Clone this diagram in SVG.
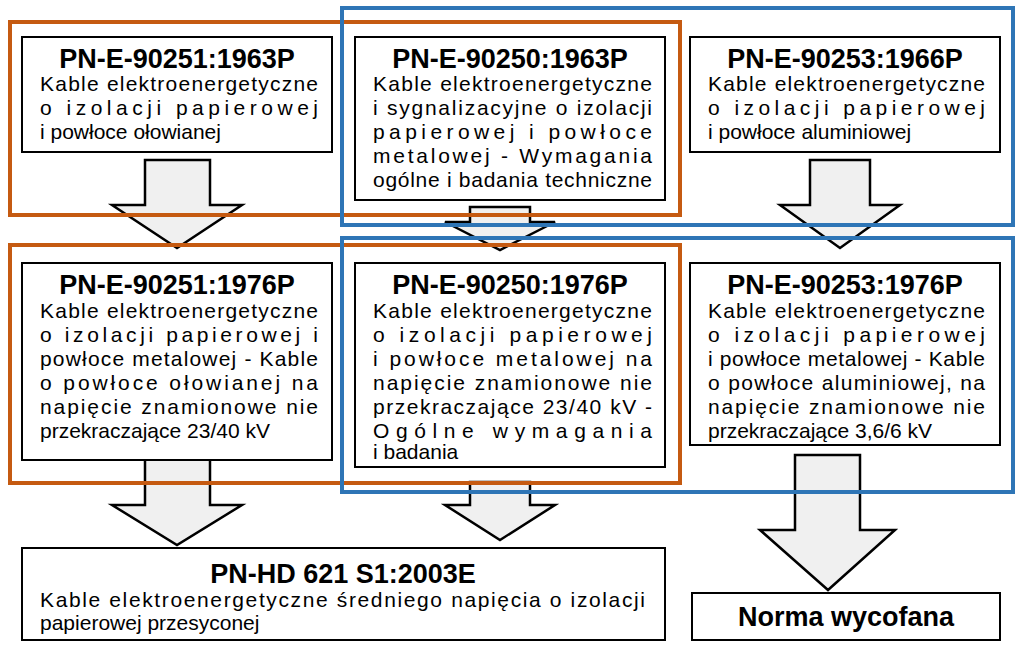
<svg xmlns="http://www.w3.org/2000/svg" width="1023" height="648" viewBox="0 0 1023 648">
<style>
.grp{fill:none;stroke-width:4}
.or{stroke:#c55a11}.bl{stroke:#2e75b6}
.box{fill:#fff;stroke:#000;stroke-width:2}
.arr{fill:#f0f0f0;stroke:#000;stroke-width:2.5;stroke-linejoin:miter}
.t{font-family:"Liberation Sans",Arial,sans-serif;font-weight:bold;font-size:27px;text-anchor:middle}
.b{font-family:"Liberation Sans",Arial,sans-serif;font-size:21px}
</style>
<rect width="1023" height="648" fill="#fff"/>
<g id="connectors">
<path class="arr" d="M145,160H210V205H242L177,248L112,205H145Z"/>
<path class="arr" d="M470,207H530V222H555L500,250L445,222H470Z"/>
<path class="arr" d="M810,160H870V205H900L840,248L780,205H810Z"/>
<path class="arr" d="M145,457H210V505H242L177,545L112,505H145Z"/>
<path class="arr" d="M470,482H530V505H555L500,540L445,505H470Z"/>
<path class="arr" d="M795,455H860V530H895L828,590L760,530H795Z"/>
</g>
<g id="groups">
<rect class="grp or" x="10" y="22" width="670" height="193"/>
<rect class="grp bl" x="342" y="8" width="671" height="217"/>
<rect class="grp or" x="10" y="245" width="670" height="238"/>
<rect class="grp bl" x="342" y="238" width="671" height="254"/>
</g>
<g id="nA"><rect class="box" x="22" y="37" width="310" height="115"/>
<text class="t" x="177" y="68">PN-E-90251:1963P</text>
<text class="b" x="40" y="91" textLength="278" lengthAdjust="spacing">Kable elektroenergetyczne</text>
<text class="b" x="40" y="115" textLength="278" lengthAdjust="spacing">o izolacji papierowej</text>
<text class="b" x="40" y="139">i  powłoce ołowianej</text></g>
<g id="nB"><rect class="box" x="355" y="37" width="310" height="163"/>
<text class="t" x="510" y="68">PN-E-90250:1963P</text>
<text class="b" x="373" y="91" textLength="279" lengthAdjust="spacing">Kable elektroenergetyczne</text>
<text class="b" x="373" y="115" textLength="279" lengthAdjust="spacing">i sygnalizacyjne o izolacji</text>
<text class="b" x="373" y="139" textLength="279" lengthAdjust="spacing">papierowej i powłoce</text>
<text class="b" x="373" y="163" textLength="279" lengthAdjust="spacing">metalowej - Wymagania</text>
<text class="b" x="373" y="187" textLength="279" lengthAdjust="spacing">ogólne i badania techniczne</text></g>
<g id="nC"><rect class="box" x="690" y="37" width="310" height="115"/>
<text class="t" x="845" y="68">PN-E-90253:1966P</text>
<text class="b" x="708" y="91" textLength="277" lengthAdjust="spacing">Kable elektroenergetyczne</text>
<text class="b" x="708" y="115" textLength="277" lengthAdjust="spacing">o izolacji papierowej</text>
<text class="b" x="708" y="139">i  powłoce aluminiowej</text></g>
<g id="nD"><rect class="box" x="22" y="263" width="310" height="197"/>
<text class="t" x="177" y="294">PN-E-90251:1976P</text>
<text class="b" x="40" y="318" textLength="278" lengthAdjust="spacing">Kable elektroenergetyczne</text>
<text class="b" x="40" y="342" textLength="278" lengthAdjust="spacing">o izolacji papierowej i</text>
<text class="b" x="40" y="366" textLength="278" lengthAdjust="spacing">powłoce metalowej - Kable</text>
<text class="b" x="40" y="390" textLength="278" lengthAdjust="spacing">o powłoce ołowianej na</text>
<text class="b" x="40" y="414" textLength="278" lengthAdjust="spacing">napięcie znamionowe nie</text>
<text class="b" x="40" y="438">przekraczające 23/40 kV</text></g>
<g id="nE"><rect class="box" x="355" y="263" width="310" height="204"/>
<text class="t" x="510" y="294">PN-E-90250:1976P</text>
<text class="b" x="373" y="318" textLength="279" lengthAdjust="spacing">Kable elektroenergetyczne</text>
<text class="b" x="373" y="342" textLength="279" lengthAdjust="spacing">o izolacji papierowej</text>
<text class="b" x="373" y="366" textLength="279" lengthAdjust="spacing">i powłoce metalowej na</text>
<text class="b" x="373" y="390" textLength="279" lengthAdjust="spacing">napięcie znamionowe nie</text>
<text class="b" x="373" y="414" textLength="279" lengthAdjust="spacing">przekraczające 23/40 kV -</text>
<text class="b" x="373" y="438" textLength="279" lengthAdjust="spacing">Ogólne wymagania</text>
<text class="b" x="373" y="459">i badania</text></g>
<g id="nF"><rect class="box" x="690" y="263" width="310" height="182"/>
<text class="t" x="845" y="294">PN-E-90253:1976P</text>
<text class="b" x="708" y="318" textLength="277" lengthAdjust="spacing">Kable elektroenergetyczne</text>
<text class="b" x="708" y="342" textLength="277" lengthAdjust="spacing">o izolacji papierowej</text>
<text class="b" x="708" y="366" textLength="277" lengthAdjust="spacing">i powłoce metalowej - Kable</text>
<text class="b" x="708" y="390" textLength="277" lengthAdjust="spacing">o powłoce aluminiowej, na</text>
<text class="b" x="708" y="414" textLength="277" lengthAdjust="spacing">napięcie znamionowe nie</text>
<text class="b" x="708" y="438">przekraczające 3,6/6 kV</text></g>
<g id="nG"><rect class="box" x="22" y="548" width="643" height="92"/>
<text class="t" x="343" y="583">PN-HD 621 S1:2003E</text>
<text class="b" x="40" y="607" textLength="605" lengthAdjust="spacing">Kable elektroenergetyczne średniego napięcia o izolacji</text>
<text class="b" x="40" y="630">papierowej przesyconej</text></g>
<g id="nH"><rect class="box" x="692" y="593" width="308" height="47"/>
<text class="t" x="846" y="626">Norma wycofana</text></g>
</svg>
